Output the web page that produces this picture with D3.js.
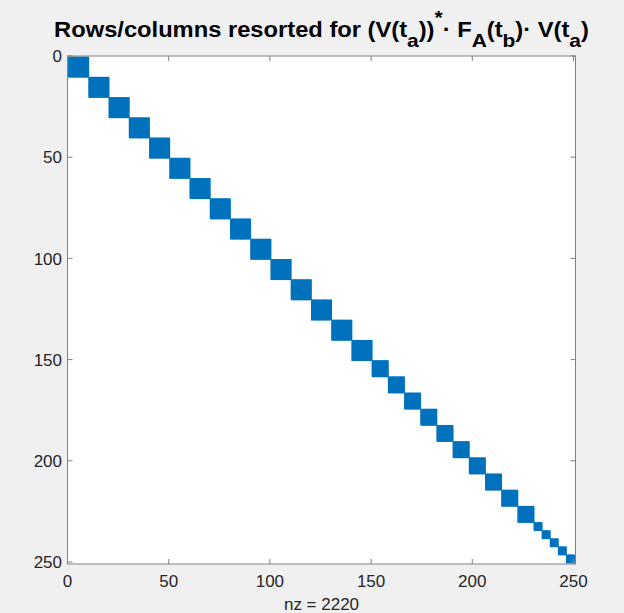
<!DOCTYPE html>
<html>
<head>
<meta charset="utf-8">
<script src="https://cdn.jsdelivr.net/npm/d3@7"></script>
<style>
  body { margin: 0; background: #f0f0f0; }
  svg { display: block; }
</style>
</head>
<body>
<div id="chart"></div>
<script>
// diagonal blocks of the sparse matrix (block sizes, in order)
var blockSizes = [10, 10, 10, 10, 10, 10, 10, 10, 10, 10, 10, 10, 10, 10, 10,
                  8, 8, 8, 8, 8, 8, 8, 8, 8, 8,
                  4, 4, 4, 4, 4];
var xTicks = [0, 50, 100, 150, 200, 250],
    yTicks = [0, 50, 100, 150, 200, 250];
var nzLabel = "nz = 2220";

var W = 624, H = 613,
    pl = 67.5, pt = 56, size = 508,
    n = d3.sum(blockSizes),
    font = "'Helvetica Neue', 'Liberation Sans', Arial, sans-serif";

var x = d3.scaleLinear().domain([0, n + 1]).range([pl, pl + size]),
    y = d3.scaleLinear().domain([0, n + 1]).range([pt, pt + size]);

// nonzeros: every (row, col) inside a diagonal block
var nz = [], off = 0;
blockSizes.forEach(function(s) {
  for (var i = 1; i <= s; i++)
    for (var j = 1; j <= s; j++) nz.push([off + i, off + j]);
  off += s;
});

var vis = d3.select("#chart").append("svg")
    .attr("width", W).attr("height", H);

vis.append("rect").attr("x", pl).attr("y", pt)
   .attr("width", size).attr("height", size).style("fill", "#fff");

vis.append("clipPath").attr("id", "clip").append("rect")
   .attr("x", pl).attr("y", pt).attr("width", size).attr("height", size);

var m = 0.7; // half marker size, data units
vis.append("g").attr("clip-path", "url(#clip)")
   .selectAll("rect").data(nz).enter().append("rect")
   .attr("x", function(d) { return x(d[1] - m); })
   .attr("y", function(d) { return y(d[0] - m); })
   .attr("width", x(2 * m) - x(0))
   .attr("height", y(2 * m) - y(0))
   .style("fill", "#0072bd");

// box + ticks
var ax = "#808080", tl = 5;
vis.append("rect").attr("x", pl).attr("y", pt)
   .attr("width", size).attr("height", size)
   .style("fill", "none").style("stroke", ax).style("stroke-width", 1);

xTicks.forEach(function(t) {
  vis.append("line").attr("x1", x(t)).attr("x2", x(t))
     .attr("y1", pt + size).attr("y2", pt + size - tl).style("stroke", ax);
  vis.append("line").attr("x1", x(t)).attr("x2", x(t))
     .attr("y1", pt).attr("y2", pt + tl).style("stroke", ax);
  vis.append("text").attr("x", x(t)).attr("y", 586.5)
     .attr("text-anchor", "middle").style("font", "17px " + font)
     .style("fill", "#262626").text(t);
});
yTicks.forEach(function(t) {
  vis.append("line").attr("y1", y(t)).attr("y2", y(t))
     .attr("x1", pl).attr("x2", pl + tl).style("stroke", ax);
  vis.append("line").attr("y1", y(t)).attr("y2", y(t))
     .attr("x1", pl + size).attr("x2", pl + size - tl).style("stroke", ax);
  vis.append("text").attr("x", pl - 5.5).attr("y", y(t)).attr("dy", "0.36em")
     .attr("text-anchor", "end").style("font", "17px " + font)
     .style("fill", "#262626").text(t);
});

vis.append("text").attr("x", pl + size / 2).attr("y", 610)
   .attr("text-anchor", "middle").style("font", "17px " + font)
   .style("fill", "#262626").text(nzLabel);

// title with sub/superscripts
var tx = pl + size / 2;
var title = vis.append("text").attr("x", tx).attr("y", 36.7)
   .attr("text-anchor", "middle")
   .style("font", "bold 21.5px " + font).style("fill", "#000");
var parts = [
  ["Rows/columns resorted for (V(t", 0], ["a", 1], ["))", 0], ["*", -1],
  ["\u00b7 F", 0], ["A", 1], ["(t", 0], ["b", 1], [")\u00b7 V(t", 0], ["a", 1], [")", 0]
];
var shift = 0;
parts.forEach(function(p) {
  var ts = title.append("tspan").text(p[0]);
  var target = p[1] === 1 ? 10 : p[1] === -1 ? -13 : 0;
  ts.attr("dy", target - shift);
  shift = target;
  if (p[1] !== 0) ts.style("font-size", "19px");
});
// widen glyphs horizontally to the reference title width
var tw = title.node().getBBox().width, sx = 535 / tw;
title.attr("transform", "translate(" + tx + ",0) scale(" + sx + ",1) translate(" + (-tx) + ",0)");
</script>
</body>
</html>
